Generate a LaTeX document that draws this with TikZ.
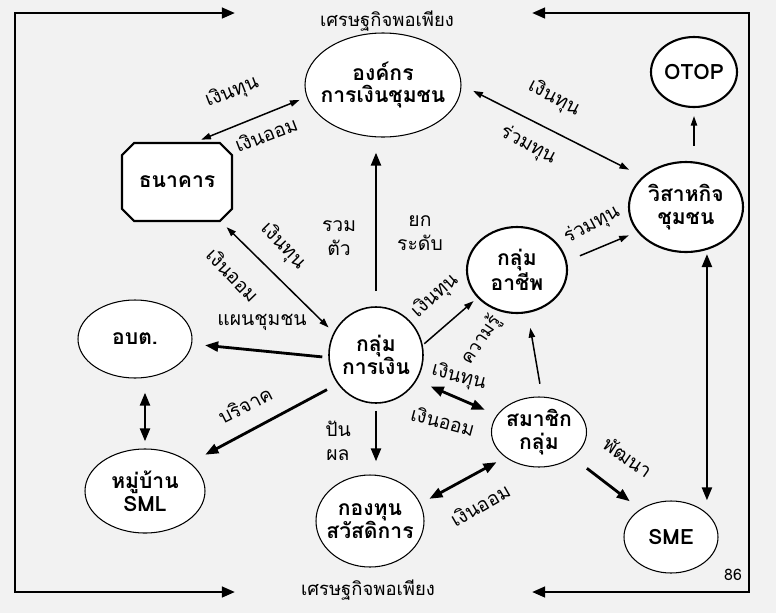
\documentclass[tikz,border=0pt]{standalone}
\usepackage{fontspec}
\setmainfont[Script=Thai]{Loma}
\usetikzlibrary{shapes.geometric,shapes.misc,arrows.meta}

\definecolor{bggray}{HTML}{F2F2F2}
\tikzset{
 unit/.style={draw,ellipse,fill=white,line width=0.6pt,inner sep=-6pt,align=center,font=\fontsize{12}{13}\selectfont\bfseries},
 unitb/.style={unit,line width=1.2pt},
 bankbox/.style={draw,chamfered rectangle,chamfered rectangle xsep=0.42cm,fill=white,line width=1.2pt,inner sep=0pt,font=\fontsize{12}{13}\selectfont\bfseries},
 thinarr/.style={->,>={Triangle[length=5.5pt,width=3.6pt]},line width=0.85pt},
 thickarr/.style={->,>={Triangle[length=7.5pt,width=5.6pt]},line width=1.6pt},
 frameln/.style={->,>={Triangle[length=7.5pt,width=6pt]},line width=1.6pt},
 lbl/.style={font=\fontsize{11}{13.5}\selectfont,align=center,inner sep=0pt},
}

\begin{document}
\begin{tikzpicture}
 \fill[bggray] (0,0) rectangle (15.52,-12.26); %背景
 \useasboundingbox (0,0) rectangle (15.52,-12.26);
 \coordinate (LT) at (0.30,-0.26); %左上
 \coordinate (LB) at (0.30,-11.84); %左下
 \coordinate (RT) at (14.98,-0.26); %右上
 \coordinate (RB) at (14.98,-11.84); %右下
 \coordinate (LM) at (0.30,-6); %左中
 \coordinate (RM) at (14.98,-6); %右中
 \coordinate (LTa) at (4.70,-0.26); %矢印先
 \coordinate (LBa) at (4.70,-11.84);
 \coordinate (RTa) at (10.64,-0.26);
 \coordinate (RBa) at (10.64,-11.84);
 \draw[frameln] (LM)--(LT)--(LTa); %枠
 \draw[frameln] (LM)--(LB)--(LBa);
 \draw[frameln] (RM)--(RT)--(RTa);
 \draw[frameln] (RM)--(RB)--(RBa);
 \node[lbl,font=\fontsize{10.5}{12}\selectfont] (topttl) at (7.74,-0.42) {เศรษฐกิจพอเพียง};
 \node[lbl,font=\fontsize{10.5}{12}\selectfont] (botttl) at (7.36,-11.80) {เศรษฐกิจพอเพียง};

 \node[unit,minimum width=3.12cm,minimum height=2.08cm] (org) at (7.66,-1.70) {องค์กร\\การเงินชุมชน};
 \node[unitb,minimum width=1.72cm,minimum height=1.40cm] (otop) at (13.88,-1.44) {OTOP};
 \node[unitb,minimum width=2.28cm,minimum height=1.80cm] (vis) at (13.72,-4.14) {วิสาหกิจ\\ชุมชน};
 \node[bankbox,minimum width=2.2cm,minimum height=1.56cm] (bank) at (3.54,-3.64) {ธนาคาร};
 \node[unitb,minimum width=2.0cm,minimum height=1.72cm] (occ) at (10.34,-5.40) {กลุ่ม\\อาชีพ};
 \node[unit,line width=0.9pt,minimum width=1.88cm,minimum height=1.92cm] (gin) at (7.52,-7.10) {กลุ่ม\\การเงิน};
 \node[unit,minimum width=2.28cm,minimum height=1.56cm] (obt) at (2.70,-6.78) {อบต.};
 \node[unit,minimum width=2.4cm,minimum height=1.68cm] (vil) at (2.90,-9.82) {หมู่บ้าน\\SML};
 \node[unit,minimum width=2.16cm,minimum height=1.84cm] (fund) at (7.40,-10.42) {กองทุน\\สวัสดิการ};
 \node[unit,minimum width=1.90cm,minimum height=1.40cm] (mem) at (10.78,-8.64) {สมาชิก\\กลุ่ม};
 \node[unit,minimum width=1.88cm,minimum height=1.44cm] (sme) at (13.42,-10.74) {SME};

 \draw[thinarr,<->,shorten <=0.12cm,shorten >=0.15cm] (bank.65)--(org.189);
 \draw[thinarr,<->,shorten <=0.26cm,shorten >=0.3cm] (org.0)--(vis.145);
 \draw[thickarr,shorten <=0.3cm,shorten >=0.3cm] (gin.north)--(gin.north |- org.south);
 \draw[thinarr,<->,shorten <=0.14cm,shorten >=0.16cm] (gin.152)--(bank.318);
 \draw[thickarr,shorten <=0.12cm,shorten >=0.26cm] (gin.183)--(obt.355);
 \draw[thickarr,shorten <=0.24cm,shorten >=0.34cm] (gin.217)--(vil.32);
 \draw[thickarr,shorten <=0.14cm,shorten >=0.26cm] (gin.south)--(gin.south |- fund.north);
 \draw[thickarr,<->,shorten <=0.28cm,shorten >=0.14cm] (vil.north |- obt.south)--(vil.north);
 \draw[thinarr,shorten <=0.04cm,shorten >=0.1cm] (gin.12)--(occ.215);
 \draw[thinarr,shorten <=0.28cm,shorten >=0.18cm] (occ.10)--(vis.207);
 \draw[thinarr,shorten <=0.3cm,shorten >=0.16cm] (otop.south |- vis.north)--(otop.south);
 \draw[thickarr,<->,shorten <=0.08cm] (vis.-64)--(vis.-64 |- sme.north);
 \draw[thinarr,shorten <=0.26cm,shorten >=0.3cm] (mem.85)--(occ.284);
 \draw[thickarr,<->,shorten <=0.3cm,shorten >=0.26cm] (gin.-32)--(mem.158);
 \draw[thickarr,<->,shorten <=0.2cm,shorten >=0.2cm] (fund.19)--(mem.217);
 \draw[thickarr,shorten <=0.36cm,shorten >=0.26cm] (mem.-37)--(sme.138);

 \node[lbl,rotate=21] (bkup) at (4.64,-1.84) {เงินทุน};
 \node[lbl,rotate=21] (bkdn) at (5.32,-2.68) {เงินออม};
 \node[lbl,rotate=-28] (visup) at (11.08,-1.96) {เงินทุน};
 \node[lbl,rotate=-28] (visdn) at (10.56,-2.90) {ร่วมทุน};
 \node[lbl] (rmtua) at (6.78,-4.76) {รวม\\ตัว};
 \node[lbl] (yokrd) at (8.40,-4.66) {ยก\\ระดับ};
 \node[lbl,rotate=-46] (gbup) at (5.66,-4.92) {เงินทุน};
 \node[lbl,rotate=-46] (gbdn) at (4.66,-5.50) {เงินออม};
 \node[lbl] (plan) at (5.24,-6.44) {แผนชุมชน};
 \node[lbl,rotate=27] (donate) at (4.90,-8.10) {บริจาค};
 \node[lbl] (divi) at (6.76,-8.82) {ปัน\\ผล};
 \node[lbl,rotate=42] (occcap) at (8.70,-5.92) {เงินทุน};
 \node[lbl,rotate=28] (viscap) at (11.84,-4.50) {ร่วมทุน};
 \node[lbl,rotate=56,font=\fontsize{10.5}{12}\selectfont] (know) at (9.62,-6.80) {ความรู้};
 \node[lbl,rotate=-15] (gmup) at (9.18,-7.54) {เงินทุน};
 \node[lbl,rotate=-15] (gmdn) at (8.86,-8.42) {เงินออม};
 \node[lbl,rotate=30] (fmsav) at (9.60,-10.10) {เงินออม};
 \node[lbl,rotate=-35] (devel) at (12.56,-9.14) {พัฒนา};
 \node[lbl,font=\fontsize{9}{10}\selectfont] (pgno) at (14.66,-11.50) {86};
\end{tikzpicture}
\end{document}
